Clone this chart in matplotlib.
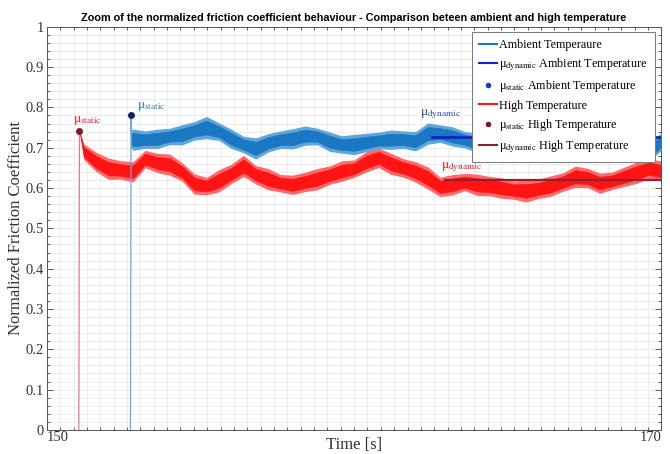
import matplotlib
matplotlib.use("Agg")
import matplotlib.pyplot as plt
from matplotlib.ticker import MultipleLocator, FixedLocator
from matplotlib.lines import Line2D

# time stamps [s] and friction readings (centre of the trace and its half spread)
t_amb = [152.76, 152.8, 153.2, 153.6, 154.0, 154.4, 154.8, 155.2, 155.6, 156.0,
         156.4, 156.8, 157.2, 157.6, 158.0, 158.4, 158.8, 159.2, 159.6, 160.0,
         160.4, 160.8, 161.2, 161.6, 162.0, 162.4, 162.8, 163.2, 163.6, 164.0,
         164.4, 164.8, 165.2, 165.6, 166.0, 166.4, 166.8, 167.2, 167.6, 168.0,
         168.4, 168.8, 169.2, 169.6, 170.0]
mu_amb = [0.722, 0.72, 0.72, 0.722, 0.728, 0.732, 0.742, 0.75, 0.74, 0.722,
          0.708, 0.698, 0.712, 0.72, 0.722, 0.73, 0.728, 0.715, 0.708, 0.708,
          0.713, 0.718, 0.72, 0.72, 0.716, 0.735, 0.735, 0.728, 0.72, 0.712,
          0.705, 0.70, 0.71, 0.72, 0.725, 0.72, 0.715, 0.72, 0.725, 0.72,
          0.715, 0.71, 0.715, 0.69, 0.715]
spread_amb = [0.02, 0.022, 0.018, 0.02, 0.017, 0.021, 0.019, 0.023, 0.018, 0.02,
              0.017, 0.022, 0.019, 0.018, 0.021, 0.02, 0.017, 0.02, 0.018, 0.021,
              0.019, 0.017, 0.02, 0.018, 0.02, 0.022, 0.018, 0.02, 0.017, 0.02,
              0.018, 0.02, 0.018, 0.019, 0.02, 0.018, 0.02, 0.017, 0.019, 0.018,
              0.02, 0.018, 0.019, 0.02, 0.018]

t_hot = [151.06, 151.2, 151.6, 152.0, 152.4, 152.8, 153.2, 153.6, 154.0, 154.4,
         154.8, 155.2, 155.6, 156.0, 156.4, 156.8, 157.2, 157.6, 158.0, 158.4,
         158.8, 159.2, 159.6, 160.0, 160.4, 160.8, 161.2, 161.6, 162.0, 162.4,
         162.8, 163.2, 163.6, 164.0, 164.4, 164.8, 165.2, 165.6, 166.0, 166.4,
         166.8, 167.2, 167.6, 168.0, 168.4, 168.8, 169.2, 169.6, 170.0]
mu_hot = [0.742, 0.69, 0.665, 0.648, 0.645, 0.64, 0.672, 0.662, 0.658, 0.64,
          0.61, 0.605, 0.618, 0.635, 0.655, 0.633, 0.622, 0.612, 0.608, 0.615,
          0.622, 0.632, 0.642, 0.648, 0.665, 0.675, 0.66, 0.65, 0.64, 0.625,
          0.603, 0.608, 0.615, 0.608, 0.605, 0.60, 0.595, 0.593, 0.598, 0.605,
          0.615, 0.628, 0.625, 0.612, 0.618, 0.628, 0.638, 0.648, 0.642]
spread_hot = [0.0, 0.016, 0.02, 0.022, 0.019, 0.021, 0.018, 0.02, 0.022, 0.019,
              0.021, 0.018, 0.023, 0.02, 0.022, 0.019, 0.022, 0.018, 0.02, 0.02,
              0.022, 0.019, 0.021, 0.018, 0.021, 0.02, 0.022, 0.019, 0.021, 0.023,
              0.02, 0.021, 0.018, 0.022, 0.02, 0.021, 0.019, 0.023, 0.02, 0.021,
              0.019, 0.022, 0.02, 0.021, 0.018, 0.02, 0.022, 0.02, 0.021]

# onset of sliding, static peaks and dynamic averages
onset_amb = 152.72
onset_hot = 151.04
static_amb = (152.74, 0.78)
static_hot = (151.06, 0.742)
dyn_amb = 0.726
dyn_hot = 0.62
dyn_amb_start = 162.55
dyn_hot_start = 162.95

c_amb = '#1a78c2'
c_amb_light = '#5fa6dc'
c_hot = '#ff1414'
c_hot_light = '#ff6a6a'
c_dyn_amb = '#1224c8'
c_dyn_hot = '#8c2235'
c_dot_amb = '#1b1f66'
c_dot_hot = '#7a1a2a'

plt.rcParams['font.family'] = ['Liberation Serif', 'DejaVu Serif']
plt.rcParams['mathtext.fontset'] = 'stix'

fig = plt.figure(figsize=(6.7, 4.54), dpi=100)
ax = fig.add_axes([0.070, 0.053, 0.917, 0.888])


def band(t, mu, spread, k):
    lo = [m - k * s for m, s in zip(mu, spread)]
    hi = [m + k * s for m, s in zip(mu, spread)]
    return lo, hi


# high temperature: jump to the static peak, then the noisy sliding phase
ax.plot([onset_hot, static_hot[0]], [0, static_hot[1]], color='#f07a7a', lw=0.9, zorder=2)
lo, hi = band(t_hot, mu_hot, spread_hot, 1.2)
ax.fill_between(t_hot, lo, hi, color=c_hot_light, lw=0, zorder=2)
lo, hi = band(t_hot, mu_hot, spread_hot, 0.75)
ax.fill_between(t_hot, lo, hi, color=c_hot, lw=0.4, zorder=2)

# ambient temperature
lo, hi = band(t_amb, mu_amb, spread_amb, 1.2)
ax.plot([onset_amb, static_amb[0], t_amb[0]], [0, static_amb[1], lo[0]],
        color='#6aa8dc', lw=0.9, zorder=3)
ax.fill_between(t_amb, lo, hi, color=c_amb_light, lw=0, zorder=3)
lo, hi = band(t_amb, mu_amb, spread_amb, 0.75)
ax.fill_between(t_amb, lo, hi, color=c_amb, lw=0.4, zorder=3)

ax.plot([dyn_amb_start, 170], [dyn_amb, dyn_amb], color=c_dyn_amb, lw=2, zorder=4)
ax.plot([dyn_hot_start, 170], [dyn_hot, dyn_hot], color=c_dyn_hot, lw=1.6, zorder=4)
ax.plot(*static_amb, 'o', color=c_dot_amb, ms=4, zorder=5)
ax.plot(*static_hot, 'o', color=c_dot_hot, ms=4, zorder=5)

ax.text(151.3, 0.765, r'μ$_{\rm static}$', color='#e8192c', fontsize=9.5, ha='center')
ax.text(153.4, 0.798, r'μ$_{\rm static}$', color='#2f7fc8', fontsize=9.5, ha='center')
ax.text(162.8, 0.78, r'μ$_{\rm dynamic}$', color='#2a4f9e', fontsize=9.5, ha='center')
ax.text(163.5, 0.648, r'μ$_{\rm dynamic}$', color='#e8192c', fontsize=9.5, ha='center')

ax.set_xlim(150, 170)
ax.set_ylim(0, 1)
ax.xaxis.set_major_locator(FixedLocator([150, 170]))
ax.xaxis.set_minor_locator(MultipleLocator(20 / 46))
ax.set_yticks([i / 10 for i in range(11)])
ax.set_yticklabels(['0', '0.1', '0.2', '0.3', '0.4', '0.5', '0.6', '0.7', '0.8', '0.9', '1'])
ax.yaxis.set_minor_locator(MultipleLocator(0.02))
ax.tick_params(which='both', direction='in', top=True, right=True, colors='#444444',
               labelcolor='#333333', labelsize=10.5, width=0.6)
ax.tick_params(which='major', length=4)
ax.tick_params(which='minor', length=2.5)
ax.tick_params(axis='x', pad=1)
ax.tick_params(axis='y', pad=2)
xl = ax.get_xticklabels()
xl[0].set_ha('left')
xl[1].set_ha('right')
ax.grid(which='both', color='#e8e8e8', lw=0.5)
ax.set_axisbelow(True)
for s in ax.spines.values():
    s.set_color('#555555')
    s.set_linewidth(0.7)

ax.set_xlabel('Time [s]', fontsize=12, color='#333333')
ax.xaxis.set_label_coords(0.5, -0.017)
ax.set_ylabel('Normalized Friction Coefficient', fontsize=12, color='#333333', labelpad=1)
ax.set_title('Zoom of the normalized friction coefficient behaviour - Comparison beteen ambient and high temperature',
             fontsize=7.8, fontweight='bold', family='Liberation Sans', pad=4)

handles = [
    Line2D([], [], color=c_amb, lw=1.5),
    Line2D([], [], color=c_dyn_amb, lw=1.5),
    Line2D([], [], color='#1a3ad0', marker='o', ms=3, ls='none'),
    Line2D([], [], color=c_hot, lw=1.5),
    Line2D([], [], color=c_dot_hot, marker='o', ms=3, ls='none'),
    Line2D([], [], color=c_dyn_hot, lw=1.5),
]
labels = ['Ambient Temperaure',
          r'μ$_{\rm dynamic}$ Ambient Temperature',
          r'μ$_{\rm static}$ Ambient Temperature',
          'High Temperature',
          r'μ$_{\rm static}$ High Temperature',
          r'μ$_{\rm dynamic}$ High Temperature']
leg = ax.legend(handles, labels, loc='upper right', bbox_to_anchor=(0.990, 0.988),
                borderaxespad=0, fontsize=8.7, handlelength=1.5, handletextpad=0.2,
                labelspacing=0.45, fancybox=False, framealpha=1, edgecolor='#777777',
                borderpad=0.6)
leg.get_frame().set_linewidth(0.7)
leg.set_zorder(10)

fig.savefig('out.png', dpi=100)
